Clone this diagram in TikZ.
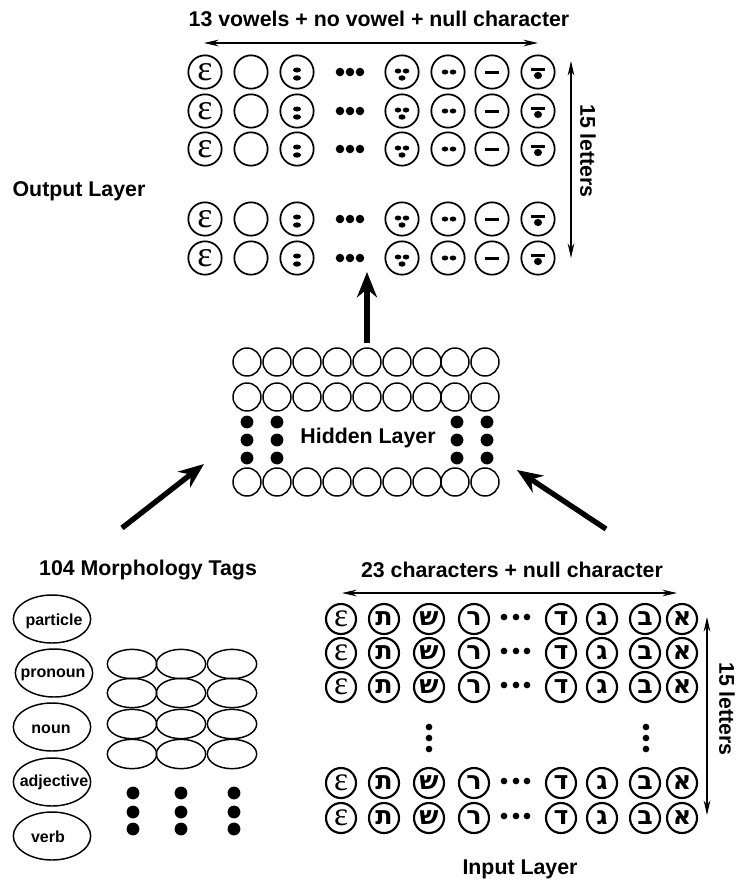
\documentclass[tikz,border=0pt]{standalone}
\usepackage{fontspec}
\setmainfont{Liberation Sans}
\newfontfamily\hebfont[Script=Hebrew]{DejaVu Sans}
\newfontfamily\epsfont{Liberation Serif}
\TeXXeTstate=1
\usetikzlibrary{arrows.meta,shapes.geometric}
\newcommand{\heb}[1]{\makebox[0pt]{\hebfont\bfseries\beginR #1\endR}}
\tikzset{
  thinarrow/.style={{Stealth[length=11pt,width=5pt]}-{Stealth[length=11pt,width=5pt]},line width=.8pt},
  flow/.style={-{Stealth[length=19pt,width=15pt]},line width=4pt},
  outcell/.style={circle,draw,line width=1.3pt,minimum size=25pt,inner sep=0pt},
  incell/.style={circle,draw,line width=1.6pt,minimum size=22.5pt,inner sep=0pt,font=\fontsize{19}{19}\selectfont},
  hidcell/.style={circle,draw,line width=1.1pt,minimum size=21pt,inner sep=0pt},
  tagcell/.style={ellipse,draw,line width=1.1pt,minimum width=58pt,minimum height=36pt,inner sep=0pt},
  gridcell/.style={ellipse,draw,line width=1.1pt,minimum width=37pt,minimum height=22pt,inner sep=0pt},
  bigdot/.style={circle,fill,inner sep=0pt,minimum size=9.6pt},
  smalldot/.style={circle,fill,inner sep=0pt,minimum size=5pt},
  head/.style={font=\fontsize{16}{18}\selectfont\bfseries,align=center},
  taglabel/.style={font=\fontsize{12}{14}\selectfont\bfseries},
  epsout/.style={font=\epsfont\fontsize{27}{27}\selectfont},
  epsin/.style={font=\epsfont\fontsize{25}{25}\selectfont},
  sheva/.pic={\fill (0,-2) ellipse (4 and 2.5) (0,6) ellipse (4 and 2.7);},
  segol/.pic={\fill (-4,-1) ellipse (3.3 and 2.5) (4,-1) ellipse (3.3 and 2.5) (0,6) ellipse (3.5 and 2.7);},
  tsere/.pic={\fill (-3,0) ellipse (3.3 and 2.5) (5,0) ellipse (3.3 and 2.5);},
  patah/.pic={\fill (-7,-1.5) rectangle (7,1.5);},
  qamats/.pic={\fill (-7,-4.5) rectangle (7,-1.5); \fill (0,3.5) ellipse (4 and 3.6);},
}
\begin{document}
\begin{tikzpicture}[x=.75pt,y=-.75pt]
  \useasboundingbox (0,0) rectangle (738,886);

  \node[head] (outtitle) at (379,19) {13 vowels + no vowel + null character};
  \node[head] (outname) at (79,191) {Output Layer};
  \coordinate (outleft) at (204,43);
  \coordinate (outright) at (538,43);
  \draw[thinarrow] (outleft) -- (outright);
  \coordinate (outtop) at (571,61);
  \coordinate (outbottom) at (571,258);
  \draw[thinarrow] (outtop) -- (outbottom);
  \node[head,rotate=-90] (outcount) at (588,151) {15 letters};
  \foreach \r/\y in {1/72,2/111,3/149,4/219,5/258} {
    \node[outcell,epsout] (out-\r-1) at (205,\y) {ε};
    \node[outcell] (out-\r-2) at (251,\y) {};
    \node[outcell] (out-\r-3) at (297,\y) {};
    \pic at (out-\r-3) {sheva};
    \foreach \d/\dx in {1/340,2/350,3/360}
      \node[smalldot,minimum size=6.4pt] (outdot-\r-\d) at (\dx,\y) {};
    \node[outcell] (out-\r-4) at (402,\y) {};
    \pic at (out-\r-4) {segol};
    \node[outcell] (out-\r-5) at (448,\y) {};
    \pic at (out-\r-5) {tsere};
    \node[outcell] (out-\r-6) at (492,\y) {};
    \pic at (out-\r-6) {patah};
    \node[outcell] (out-\r-7) at (538,\y) {};
    \pic at (out-\r-7) {qamats};
  }

  \foreach \r/\y in {1/362,2/397,3/482}
    \foreach \c/\x in {1/247,2/277,3/307,4/337,5/367,6/397,7/427,8/455,9/485}
      \node[hidcell] (hid-\r-\c) at (\x,\y) {};
  \foreach \c/\x in {1/247,2/277,3/457,4/487}
    \foreach \d/\y in {1/422,2/440,3/458}
      \node[bigdot] (hiddot-\c-\d) at (\x,\y) {};
  \node[head] (hidname) at (368,438) {Hidden Layer};

  \coordinate (uptail) at (367,343);
  \coordinate (uptip) at (367,272);
  \draw[flow] (uptail) -- (uptip);
  \coordinate (lefttail) at (122,528);
  \coordinate (lefttip) at (204,464);
  \draw[flow] (lefttail) -- (lefttip);
  \coordinate (righttail) at (606,529);
  \coordinate (righttip) at (517,470);
  \draw[flow] (righttail) -- (righttip);

  \node[head] (tagtitle) at (148,570) {104 Morphology Tags};
  \node[tagcell] (particle) at (52,619) {};
  \node[taglabel] (particlelabel) at (54,621) {particle};
  \node[tagcell] (pronoun) at (54,673) {};
  \node[taglabel] (pronounlabel) at (53,675) {pronoun};
  \node[tagcell] (noun) at (52,727) {};
  \node[taglabel] (nounlabel) at (51,729) {noun};
  \node[tagcell] (adjective) at (52,782) {};
  \node[taglabel] (adjectivelabel) at (54,782) {adjective};
  \node[tagcell] (verb) at (52,836) {};
  \node[taglabel] (verblabel) at (48,837) {verb};
  \foreach \r/\y in {1/664,2/693,3/724,4/754}
    \foreach \c/\x in {1/132,2/181,3/232}
      \node[gridcell] (grid-\r-\c) at (\x,\y) {};
  \foreach \c/\x in {1/133,2/181,3/234}
    \foreach \d/\y in {1/793,2/812,3/829}
      \node[bigdot] (griddot-\c-\d) at (\x,\y) {};

  \node[head] (intitle) at (512,570) {23 characters + null character};
  \node[head] (inname) at (520,869) {Input Layer};
  \coordinate (inleft) at (342,593);
  \coordinate (inright) at (677,593);
  \draw[thinarrow] (inleft) -- (inright);
  \coordinate (intop) at (707,617);
  \coordinate (inbottom) at (707,815);
  \draw[thinarrow] (intop) -- (inbottom);
  \node[head,rotate=-90] (incount) at (727,709) {15 letters};
  \foreach \r/\y in {1/619,2/653,3/687,4/783,5/818} {
    \node[incell,epsin] (in-\r-1) at (341,\y) {ε};
    \foreach \c/\x/\letter in {2/384/ת,3/429/ש,4/474/ר,5/561/ד,6/602/ג,7/645/ב,8/682/א}
      \node[incell] (in-\r-\c) at (\x,\y) {\heb{\letter}};
    \foreach \d/\dx in {1/504,2/516,3/527}
      \node[smalldot] (indot-\r-\d) at (\dx,\y-2) {};
  }
  \foreach \c/\x in {1/429,2/646}
    \foreach \d/\y in {1/727,2/738,3/749}
      \node[smalldot] (invdot-\c-\d) at (\x,\y) {};
\end{tikzpicture}
\end{document}
